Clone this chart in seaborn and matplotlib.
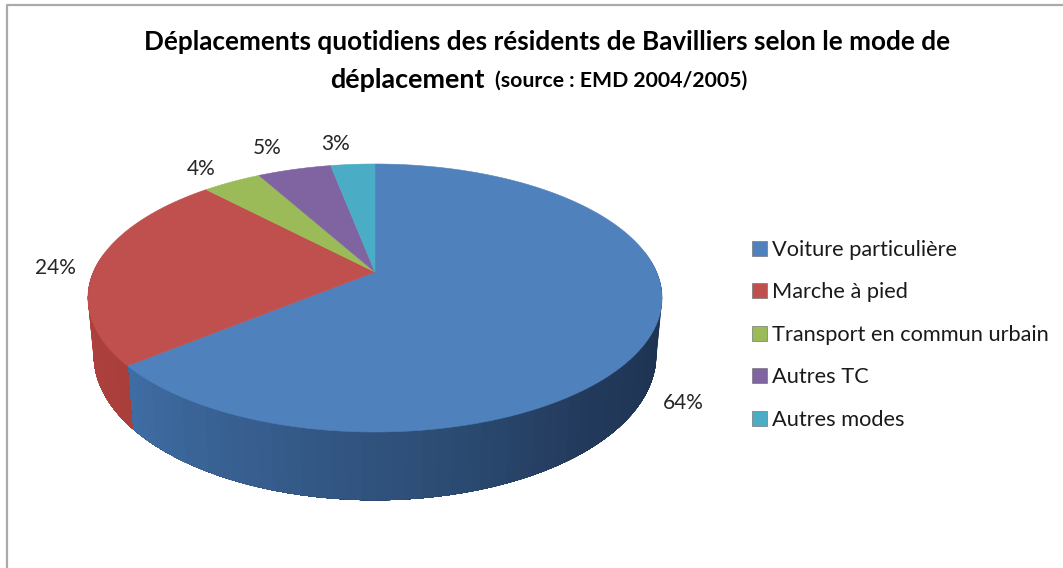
import numpy as np
import matplotlib
matplotlib.use('Agg')
import matplotlib.pyplot as plt
from matplotlib.colors import LinearSegmentedColormap
from matplotlib.patches import Patch
import seaborn as sns

# Data
modes = ['Voiture particulière', 'Marche à pied', 'Transport en commun urbain', 'Autres TC', 'Autres modes']
shares = [64, 24, 4, 5, 3]
top_colors = ['#4f81bd', '#c0504d', '#9bbb59', '#8064a2', '#4bacc6']
title_line1 = 'Déplacements quotidiens des résidents de Bavilliers selon le mode de'
title_word = 'déplacement'
title_source = '(source : EMD 2004/2005)'

sns.set_theme(style='white')
plt.rcParams['font.family'] = ['Lato', 'DejaVu Sans']
palette = sns.color_palette(top_colors)

fig = plt.figure(figsize=(10.63, 5.68), dpi=100)
# axes in pixel units of the picture, y going down
ax = fig.add_axes([0, 0, 1, 1])
ax.set_xlim(0, 1063)
ax.set_ylim(568, 0)
ax.axis('off')

# perspective of the tilted disc
CX, CY, R = 375, 272, 281.6
C, A = 0.194, -76.2
DEPTH, SHRINK = 55, 0.98


def project(theta, base=False):
    # theta is clockwise from 12 o'clock
    u, v = np.sin(theta), np.cos(theta)
    w = 1 + C * v
    x = CX + R * u / w * (SHRINK if base else 1)
    y = (A * v + CY) / w
    if base:
        y = y + DEPTH / w
    return x, y


edges = np.cumsum([0] + shares) / sum(shares) * 2 * np.pi

# side wall, only the front part shows
blue_side = LinearSegmentedColormap.from_list('blue_side', ['#3f6ca3', '#365d8d', '#2d4d75', '#223a5c', '#1e3452', '#1c3250'])
red_side = LinearSegmentedColormap.from_list('red_side', ['#a93e3b', '#b44442'])
steps = {0: blue_side, 1: red_side}
for i, cmap in steps.items():
    start, stop = max(edges[i], np.pi * 0.45), min(edges[i + 1], np.pi * 1.55)
    angles = np.linspace(start, stop, 60)
    # bands overlap the next one so no seams show, blue is painted from the right
    order = range(len(angles) - 1) if i == 0 else range(len(angles) - 2, -1, -1)
    for k in order:
        pair = angles[k:] if i == 0 else angles[:k + 2]
        x0, y0 = project(pair)
        x1, y1 = project(pair, base=True)
        # blue wall goes light (left) to dark (right)
        frac = 1 - k / 58 if i == 0 else k / 58
        ax.fill(np.r_[x0, x1[::-1]], np.r_[y0, y1[::-1]], color=cmap(frac), lw=0, zorder=2)

# top face
for i, col in enumerate(palette):
    angles = np.linspace(edges[i], edges[i + 1], 120)
    x, y = project(angles)
    ax.fill(np.r_[CX, x], np.r_[CY, y], color=col, lw=0.4, zorder=3)

# percent labels
label_pos = [(683, 403), (55, 268), (201, 169), (267, 148), (336, 144)]
for share, (lx, ly) in zip(shares, label_pos):
    ax.text(lx, ly, f'{share}%', ha='center', va='center', fontsize=15, color='#262626')

# titles
ax.text(547.5, 42, title_line1, ha='center', va='center', fontsize=18.8, fontweight='bold', color='black')
ax.text(407, 80, title_word, ha='center', va='center', fontsize=19.4, fontweight='bold', color='black')
ax.text(621, 81, title_source, ha='center', va='center', fontsize=15.3, fontweight='bold', color='black')

# legend
handles = [Patch(facecolor=c, edgecolor='#777777', lw=0.5) for c in palette]
ax.legend(handles, modes, loc='upper left', bbox_to_anchor=(752 / 1063, 1 - 240 / 568), frameon=False,
          fontsize=15.7, handlelength=0.7, handleheight=0.7, handletextpad=0.23, labelspacing=1.03,
          labelcolor='#1a1a1a', borderpad=0, borderaxespad=0)

# chart frame
ax.plot([6.5, 6.5, 1063], [568, 5, 5], color='#aaaaaa', lw=1.6, zorder=1)

fig.savefig('out.png', dpi=100)
